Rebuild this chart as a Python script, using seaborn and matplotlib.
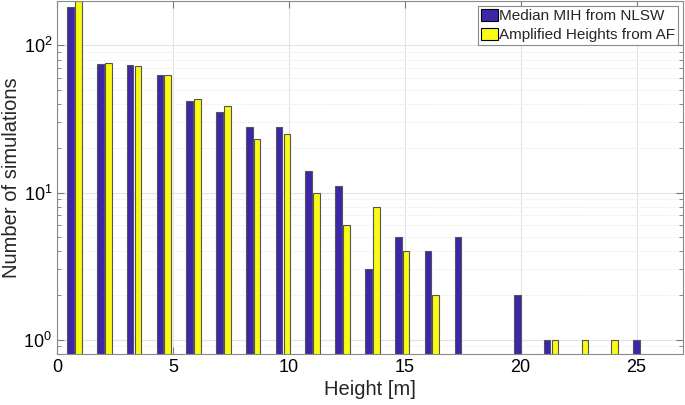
import pandas as pd
import numpy as np
import seaborn as sns
from matplotlib import pyplot as plt
from matplotlib.ticker import LogLocator, NullFormatter

# bin centres of the height histogram [m]
heights = [0.75, 2.04, 3.32, 4.61, 5.89, 7.18, 8.46, 9.75, 11.03, 12.32,
           13.60, 14.89, 16.17, 17.46, 18.74, 20.03, 21.31, 22.60, 23.88, 25.17]
# number of simulations per bin (0 = empty bin)
median_mih = [182, 75, 74, 63, 42, 35, 28, 28, 14, 11, 3, 5, 4, 5, 0, 2, 1, 0, 0, 1]
amplified_af = [200, 76, 72, 63, 43, 39, 23, 25, 10, 6, 8, 4, 2, 0, 0, 0, 1, 1, 1, 0]

series_names = ["Median MIH from NLSW", "Amplified Heights from AF"]
colors = ["#3E26A8", "#F9FB15"]

# Long table for seaborn
df = pd.concat([
    pd.DataFrame({"height": heights, "count": median_mih, "series": series_names[0]}),
    pd.DataFrame({"height": heights, "count": amplified_af, "series": series_names[1]}),
])
df = df[df["count"] > 0]

sns.set_style("ticks")
plt.rcParams["font.family"] = ["Liberation Sans", "DejaVu Sans"]

fig = plt.figure(figsize=(6.85, 4.05), dpi=100)
ax = fig.add_axes([0.0832, 0.126, 0.9138, 0.8715])

sns.barplot(data=df, x="height", y="count", hue="series", hue_order=series_names,
            native_scale=True, palette=colors, saturation=1, errorbar=None,
            width=0.53, gap=0.15, edgecolor="#555555", linewidth=0.8, ax=ax)

ax.set_yscale("log")
ax.set_ylim(0.8, 200)
ax.set_xlim(0, 27)
ax.set_xticks([0, 5, 10, 15, 20, 25])
ax.set_xticklabels(["0", "5", "10", "15", "20", "25"])
ax.yaxis.set_minor_locator(LogLocator(base=10, subs=np.arange(2, 10)))
ax.yaxis.set_minor_formatter(NullFormatter())

# Grid lines
ax.set_axisbelow(True)
ax.grid(True, which="major", color="#e3e3e3", lw=0.8)
ax.grid(True, which="minor", axis="y", color="#e3e3e3", lw=0.7, ls=":")

ax.tick_params(which="both", direction="in", top=True, right=True,
               colors="#7a7a7a", labelcolor="black", labelsize=13)
ax.tick_params(which="major", length=5)
ax.tick_params(which="minor", length=3)
for s in ax.spines.values():
    s.set_visible(True)
    s.set_color("#8a8a8a")
    s.set_linewidth(0.8)

ax.set_xlabel("Height [m]", fontsize=14.5, labelpad=3)
ax.set_ylabel("Number of simulations", fontsize=14.5, labelpad=2)

leg = ax.legend(loc="upper right", fontsize=11, frameon=True, fancybox=False,
                edgecolor="#8a8a8a", framealpha=1, handlelength=1.1,
                handleheight=0.85, handletextpad=0.1, borderaxespad=0.3,
                borderpad=0.2, labelspacing=0.3)
leg.get_frame().set_linewidth(0.8)
for h in leg.legend_handles:
    h.set_edgecolor("black")

plt.savefig("out.png", dpi=100)
plt.close()
